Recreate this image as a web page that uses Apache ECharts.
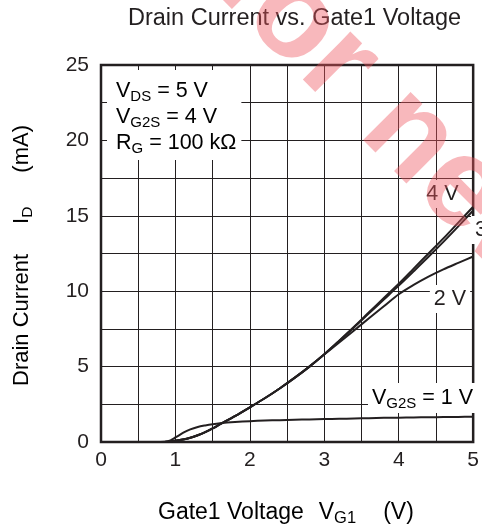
<!DOCTYPE html>
<html>
<head>
<meta charset="utf-8">
<script src="https://cdn.jsdelivr.net/npm/echarts@6/dist/echarts.min.js"></script>
<style>
  html, body { margin: 0; padding: 0; background: #fff; }
  #chart { width: 482px; height: 531px; }
</style>
</head>
<body>
<div id="chart"></div>
<script>
// Gate1 voltage sample points (V)
const gateVoltage = [0, 0.5, 0.8, 0.9, 1.0, 1.1, 1.2, 1.3, 1.4, 1.5, 1.6, 1.8, 2.0, 2.2, 2.4, 2.6, 2.8, 3.0, 3.2, 3.4, 3.6, 3.8, 4.0, 4.2, 4.4, 4.6, 4.8, 5.0];

// Drain current (mA) for each Gate2 bias
const drainAt4V = [0, 0, 0, 0.02, 0.08, 0.16, 0.28, 0.45, 0.65, 0.9, 1.18, 1.72, 2.3, 2.9, 3.55, 4.25, 5.0, 5.82, 6.72, 7.64, 8.6, 9.55, 10.5, 11.5, 12.5, 13.5, 14.55, 15.6];
const drainAt3V = [0, 0, 0, 0.02, 0.08, 0.16, 0.28, 0.45, 0.65, 0.9, 1.18, 1.72, 2.3, 2.9, 3.55, 4.25, 5.0, 5.82, 6.7, 7.6, 8.53, 9.45, 10.37, 11.32, 12.28, 13.27, 14.3, 15.35];
const drainAt2V = [0, 0, 0, 0.02, 0.08, 0.16, 0.28, 0.45, 0.65, 0.9, 1.18, 1.72, 2.3, 2.9, 3.55, 4.25, 5.0, 5.8, 6.6, 7.4, 8.2, 9.0, 9.8, 10.42, 10.97, 11.45, 11.88, 12.3];
const drainAt1V = [0, 0, 0, 0.05, 0.3, 0.6, 0.84, 1.0, 1.1, 1.18, 1.24, 1.32, 1.38, 1.42, 1.45, 1.48, 1.5, 1.52, 1.54, 1.56, 1.58, 1.6, 1.61, 1.63, 1.64, 1.65, 1.66, 1.68];

const seriesNames = ['4 V', '3 V', '2 V', '1 V'];
const seriesValues = [drainAt4V, drainAt3V, drainAt2V, drainAt1V];

// Axis ranges and tick labels
const xRange = [0, 5];
const yRange = [0, 25];
const xTickLabels = [0, 1, 2, 3, 4, 5];
const yTickLabels = [0, 5, 10, 15, 20, 25];

const INK = '#231f20';
const FONT = '"Liberation Sans", Arial, Helvetica, sans-serif';

const chart = echarts.init(document.getElementById('chart'), null, { renderer: 'canvas' });

function pairs(values) {
  return gateVoltage.map((v, i) => [v, values[i]]);
}

const mainStyle = { fontSize: 21.5, fontFamily: FONT, color: INK, lineHeight: 26 };
const subStyle = { fontSize: 15, fontFamily: FONT, color: INK, verticalAlign: 'bottom', lineHeight: 22 };

function label(x, y, text, align) {
  return {
    type: 'text', x: x, y: y, z: 50, silent: true,
    style: {
      text: text,
      fontSize: 21.5, fontFamily: FONT, fill: INK,
      align: align, textAlign: align,
      verticalAlign: 'middle', textVerticalAlign: 'middle',
      backgroundColor: '#fff', padding: [3, 4, 3, 4]
    }
  };
}

chart.setOption({
  animation: false,
  backgroundColor: '#fff',
  grid: {
    left: 101, right: 5, top: 65, bottom: 89,
    show: true, borderColor: INK, borderWidth: 2.5, backgroundColor: 'transparent'
  },
  xAxis: {
    type: 'value', min: xRange[0], max: xRange[1], interval: 0.5,
    axisLine: { show: false },
    axisTick: { show: false },
    axisLabel: {
      margin: 8, fontSize: 21, fontFamily: FONT, color: INK,
      formatter: v => (xTickLabels.indexOf(v) >= 0 ? String(v) : '')
    },
    splitLine: { show: true, lineStyle: { color: INK, width: 1 } }
  },
  yAxis: {
    type: 'value', min: yRange[0], max: yRange[1], interval: 2.5,
    axisLine: { show: false },
    axisTick: { show: false },
    axisLabel: {
      margin: 12, fontSize: 21, fontFamily: FONT, color: INK, padding: [6, 0, 0, 0],
      formatter: v => (yTickLabels.indexOf(v) >= 0 ? String(v) : '')
    },
    splitLine: { show: true, lineStyle: { color: INK, width: 1 } }
  },
  series: seriesValues.map((vals, i) => ({
    name: seriesNames[i],
    type: 'line',
    data: pairs(vals),
    showSymbol: false,
    smooth: 0.3,
    lineStyle: { color: INK, width: 2 },
    z: 3
  })),
  graphic: [
    // chart title
    {
      type: 'text', x: 128, y: 19, silent: true,
      style: {
        text: 'Drain Current vs. Gate1 Voltage',
        fontSize: 23.5, fontFamily: FONT, fill: INK,
        align: 'left', textAlign: 'left', verticalAlign: 'middle', textVerticalAlign: 'middle'
      }
    },
    // x axis title
    {
      type: 'text', x: 158, y: 513, silent: true,
      style: {
        text: '{m|Gate1 Voltage}{v|V}{s|G1}{p|(V)}',
        align: 'left', textAlign: 'left', verticalAlign: 'middle', textVerticalAlign: 'middle',
        rich: {
          m: { fontSize: 23, fontFamily: FONT, color: INK, lineHeight: 28 },
          v: { fontSize: 23, fontFamily: FONT, color: INK, lineHeight: 28, padding: [0, 0, 0, 15] },
          s: { fontSize: 16.5, fontFamily: FONT, color: INK, verticalAlign: 'bottom', lineHeight: 22 },
          p: { fontSize: 23, fontFamily: FONT, color: INK, lineHeight: 28, padding: [0, 0, 0, 27] }
        }
      }
    },
    // y axis title
    {
      type: 'text', x: 22, y: 386, rotation: Math.PI / 2, silent: true,
      style: {
        text: '{m|Drain Current}{v|I}{s|D}{p|(mA)}',
        align: 'left', textAlign: 'left', verticalAlign: 'middle', textVerticalAlign: 'middle',
        rich: {
          m: { fontSize: 22, fontFamily: FONT, color: INK, lineHeight: 28 },
          v: { fontSize: 22, fontFamily: FONT, color: INK, lineHeight: 28, padding: [0, 0, 0, 30] },
          s: { fontSize: 15.5, fontFamily: FONT, color: INK, verticalAlign: 'bottom', lineHeight: 22 },
          p: { fontSize: 22, fontFamily: FONT, color: INK, lineHeight: 28, padding: [0, 0, 0, 34] }
        }
      }
    },
    // bias conditions box
    {
      type: 'text', x: 107, y: 70, z: 50, silent: true,
      style: {
        text: '{m|V}{s|DS}{m| = 5 V}\n{m|V}{s|G2S}{m| = 4 V}\n{m|R}{s|G}{m| = 100 kΩ}',
        align: 'left', textAlign: 'left', verticalAlign: 'top', textVerticalAlign: 'top',
        backgroundColor: '#fff', padding: [8, 5, 4, 9],
        rich: { m: mainStyle, s: subStyle }
      }
    },
    // curve labels
    label(442.5, 194, '4 V', 'center'),
    label(471, 230, '3 V', 'left'),
    label(450, 299, '2 V', 'center'),
    {
      type: 'text', x: 368, y: 398, z: 50, silent: true,
      style: {
        text: '{m|V}{s|G2S}{m| = 1 V}',
        align: 'left', textAlign: 'left', verticalAlign: 'middle', textVerticalAlign: 'middle',
        backgroundColor: '#fff', padding: [2, 4, 2, 4],
        rich: { m: mainStyle, s: subStyle }
      }
    },
    // red stamp across the plot
    {
      type: 'text', x: 60, y: -213, rotation: -Math.PI / 4, z: 100, silent: true,
      style: {
        text: 'Not for new design',
        fontSize: 128, fontWeight: 'bold', fontFamily: FONT,
        fill: 'rgba(238, 86, 95, 0.42)',
        align: 'left', textAlign: 'left', verticalAlign: 'middle', textVerticalAlign: 'middle'
      }
    }
  ]
});
</script>
</body>
</html>
